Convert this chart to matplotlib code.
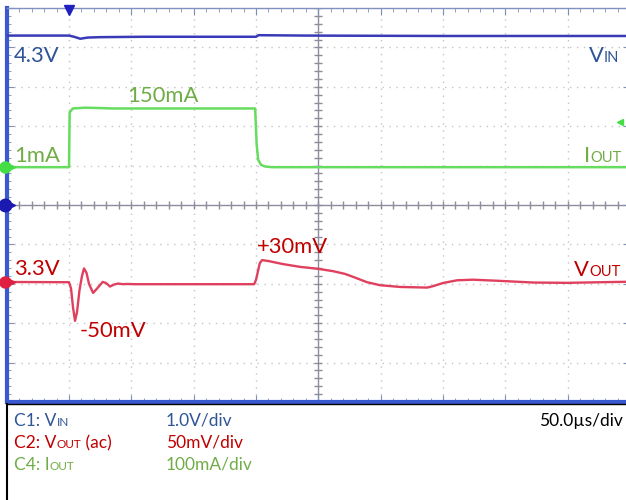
import numpy as np
import matplotlib.pyplot as plt
from matplotlib.lines import Line2D
from matplotlib.ticker import MultipleLocator

plt.rcParams["font.family"] = ["Lato", "DejaVu Sans"]

# time in microseconds (trigger at 0, 50 us/div)
t_vin = [-50, 0, 4, 9, 15, 25, 60, 150, 152, 190, 300, 450]
vin_v = [4.30, 4.30, 4.27, 4.22, 4.25, 4.26, 4.27, 4.27, 4.31, 4.30, 4.29, 4.29]

t_iout = [-50, 0, 0.5, 3, 13, 25, 35, 149.3, 150.5, 151.7, 154, 157, 162.5, 450]
iout_ma = [1, 1, 140, 150, 152, 151, 150, 150, 60, 20, 7, 3, 1, 1]

t_vout = [-50, 0, 1.6, 3.2, 4.8, 6.4, 8.4, 10.4, 12, 14, 16, 19.3, 22.5, 27,
          29.7, 32.9, 36, 39.3, 43.3, 46.5, 53, 148.5, 150, 151.7, 153, 154.8,
          159.6, 171.7, 185.3, 199.8, 211.9, 221.5, 227.9, 239.1, 249.6, 265.6,
          287.3, 292, 300, 311.4, 324.2, 345.9, 372.4, 399.7, 426.2, 450]
vout_mv = [0.3, 0, -8, -32, -49, -38, -10, 8, 17.5, 12, -2, -13.6, -8, 0.4,
           -1, -5.5, -3, -1.7, -2.5, -2.2, -2.5, -2.5, 3, 15, 24, 28,
           27, 23, 19.5, 17, 14, 10.5, 6.8, 0, -3.8, -6,
           -6.8, -5, -1, 2.5, 3.2, 1.7, -0.4, -0.8, 0, 0.6]

# channel scale / offsets in divisions
VIN_PER_DIV = 1.0
IOUT_PER_DIV = 100.0
IOUT_OFFSET = 0.95
VOUT_PER_DIV = 50.0
VOUT_OFFSET = -1.96

W, H = 626, 500
BLUE_TXT = "#2f5597"
RED_TXT = "#c00000"
GREEN_TXT = "#70ad47"

fig = plt.figure(figsize=(W / 100, H / 100), dpi=100)
ax = fig.add_axes([6.7 / W, (H - 402) / H, (630 - 6.7) / W, (402 - 8) / H])
ax.set_xlim(0, 10)
ax.set_ylim(-5, 5)


def tdiv(t):
    return 1 + np.asarray(t, dtype=float) / 50.0


# grid
for gx in range(1, 10):
    if gx != 5:
        ax.axvline(gx, color="#c4c4c4", lw=1, ls=(0, (1, 4)), zorder=1)
for gy in range(-4, 5):
    if gy != 0:
        ax.axhline(gy, color="#c4c4c4", lw=1, ls=(0, (1, 4)), zorder=1)
ax.axvline(5, color="#8c8c9c", lw=1, zorder=1)
ax.axhline(0, color="#8c8c9c", lw=1, zorder=1)
xs = np.arange(0, 10.01, 0.2)
ys = np.arange(-5, 5.01, 0.2)
ax.plot(xs, np.zeros_like(xs), "|", ms=6, color="#8c8c9c", zorder=1)
ax.plot(np.full_like(ys, 5), ys, "_", ms=6, color="#8c8c9c", zorder=1)

ax.xaxis.set_major_locator(MultipleLocator(1))
ax.yaxis.set_major_locator(MultipleLocator(1))
ax.xaxis.set_minor_locator(MultipleLocator(0.2))
ax.yaxis.set_minor_locator(MultipleLocator(0.2))
ax.tick_params(which="both", direction="in", top=True, right=True,
               labelbottom=False, labelleft=False, color="#8090b0")
ax.tick_params(which="major", length=5)
ax.tick_params(which="minor", length=3)

for side in ["left", "bottom"]:
    ax.spines[side].set_color("#3a58d0")
    ax.spines[side].set_linewidth(3)
ax.spines["top"].set_color("#8090c0")
ax.spines["top"].set_linewidth(1)
ax.spines["right"].set_visible(False)

# traces
ax.plot(tdiv(t_vin), np.array(vin_v) / VIN_PER_DIV, color="#3a3ab8", lw=1.8, zorder=3)
ax.plot(tdiv(t_iout), IOUT_OFFSET + np.array(iout_ma) / IOUT_PER_DIV,
        color="#66dd5e", lw=1.8, zorder=3)
ax.plot(tdiv(t_vout), VOUT_OFFSET + np.array(vout_mv) / VOUT_PER_DIV,
        color="#e0405e", lw=1.7, zorder=3)

# channel markers
ax.plot(-0.03, IOUT_OFFSET + 0.01, "o", color="#44dd44", ms=8, clip_on=False, zorder=5)
ax.plot(0.08, IOUT_OFFSET + 0.01, ">", color="#44dd44", ms=4, clip_on=False, zorder=5)
ax.plot(-0.03, 0, "o", color="#1a1ab0", ms=9, clip_on=False, zorder=5)
ax.plot(0.09, 0, ">", color="#1a1ab0", ms=4, clip_on=False, zorder=5)
ax.plot(-0.03, VOUT_OFFSET, "o", color="#e02040", ms=8, clip_on=False, zorder=5)
ax.plot(0.08, VOUT_OFFSET, ">", color="#e02040", ms=4, clip_on=False, zorder=5)
ax.plot(1, 4.94, "v", color="#2020c0", ms=7, clip_on=False, zorder=5)
ax.plot(9.84, 2.1, "<", color="#44dd44", ms=5, clip_on=False, zorder=5)

# footer box lines
fig.add_artist(Line2D([7 / W, 1], [1 - 404 / H] * 2, color="black", lw=1))
fig.add_artist(Line2D([7 / W] * 2, [1 - 404 / H, 0], color="black", lw=1.5))

renderer = fig.canvas.get_renderer()


def text_runs(x, y, parts, color):
    for s, size in parts:
        t = fig.text(x / W, 1 - y / H, s, fontsize=size, color=color,
                     va="baseline", ha="left")
        x += t.get_window_extent(renderer=renderer).width
    return x


BIG, SUB = 15.8, 10.5
text_runs(14, 61.5, [("4.3V", BIG)], BLUE_TXT)
text_runs(589, 61.5, [("V", BIG), ("IN", SUB)], BLUE_TXT)
text_runs(127, 101.5, [("150mA", BIG)], GREEN_TXT)
text_runs(14, 161.5, [("1mA", BIG)], GREEN_TXT)
text_runs(584, 162, [("I", BIG), ("OUT", SUB)], GREEN_TXT)
text_runs(14, 275, [("3.3V", BIG)], RED_TXT)
text_runs(257, 253, [("+30mV", BIG)], RED_TXT)
text_runs(80, 337, [("-50mV", BIG)], RED_TXT)
text_runs(574, 276, [("V", BIG), ("OUT", SUB)], RED_TXT)

FT, FS = 12.5, 8.5
text_runs(14, 426, [("C1: V", FT), ("IN", FS)], BLUE_TXT)
text_runs(14, 448, [("C2: V", FT), ("OUT", FS), (" (ac)", FT)], RED_TXT)
text_runs(14, 470, [("C4: I", FT), ("OUT", FS)], GREEN_TXT)
text_runs(166, 426, [("1.0V/div", FT)], BLUE_TXT)
text_runs(166, 448, [("50mV/div", FT)], RED_TXT)
text_runs(166, 470, [("100mA/div", FT)], GREEN_TXT)
text_runs(539, 426, [("50.0µs/div", FT)], "black")

fig.savefig("out.png", dpi=100)
